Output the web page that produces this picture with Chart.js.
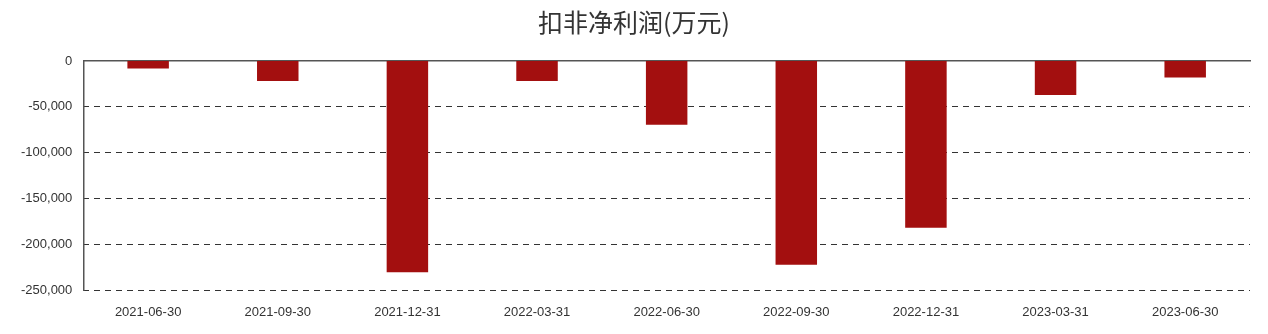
<!DOCTYPE html>
<html>
<head>
<meta charset="utf-8">
<script src="https://cdn.jsdelivr.net/npm/chart.js@4/dist/chart.umd.min.js"></script>
<style>
  html, body { margin: 0; padding: 0; background: #fff; }
  #wrap { width: 1268px; height: 334px; }
</style>
</head>
<body>
<div id="wrap"><canvas id="myChart"></canvas></div>
<script>
const periods = ['2021-06-30', '2021-09-30', '2021-12-31', '2022-03-31', '2022-06-30', '2022-09-30', '2022-12-31', '2023-03-31', '2023-06-30'];
const profit = [-8200, -21700, -230100, -21700, -69600, -222100, -181800, -37000, -18100];
const yTicks = [0, -50000, -100000, -150000, -200000, -250000];

const ctx = document.getElementById('myChart').getContext('2d');
const myChart = new Chart(ctx, {
    type: 'bar',
    data: {
        labels: periods,
        datasets: [{
            label: '扣非净利润(万元)',
            data: profit,
            backgroundColor: '#a30f0f',
            borderWidth: 0
        }]
    },
    options: {
        responsive: true,
        maintainAspectRatio: false,
        animation: false,
        layout: {
            padding: { left: 18, right: 18, top: 0, bottom: 8 }
        },
        categoryPercentage: 1,
        barPercentage: .32,
        scales: {
            x: {
                position: 'bottom',
                grid: { display: false },
                border: { display: false },
                ticks: {
                    color: '#333333',
                    padding: 6,
                    maxRotation: 0,
                    font: { family: 'Liberation Sans', size: 13 }
                }
            },
            zero: {
                position: 'top',
                type: 'category',
                labels: periods,
                grid: { display: false },
                border: { display: true, color: '#555555', width: 1.5 },
                ticks: { display: false }
            },
            yline: {
                position: 'left',
                weight: -1,
                min: -250000,
                max: 0,
                grid: { display: false },
                border: { display: true, color: '#555555', width: 1.5 },
                ticks: { display: false }
            },
            y: {
                position: 'left',
                weight: 0,
                min: -250000,
                max: 0,
                afterBuildTicks: (axis) => {
                    axis.ticks = yTicks.map(v => ({ value: v }));
                },
                grid: {
                    color: (c) => c.tick && c.tick.value === 0 ? 'rgba(0,0,0,0)' : '#333333',
                    lineWidth: 1,
                    drawTicks: false
                },
                border: { display: false, dash: [6, 5] },
                ticks: {
                    color: '#333333',
                    padding: 3,
                    font: { family: 'Liberation Sans', size: 13 },
                    callback: (v) => v.toLocaleString('en-US')
                }
            }
        },
        plugins: {
            title: {
                display: true,
                text: '扣非净利润(万元)',
                color: '#333333',
                font: { family: 'Noto Sans CJK SC', size: 25, weight: 'normal' },
                padding: { top: 7, bottom: 16 }
            },
            legend: { display: false },
            tooltip: { enabled: false }
        }
    }
});
</script>
</body>
</html>
